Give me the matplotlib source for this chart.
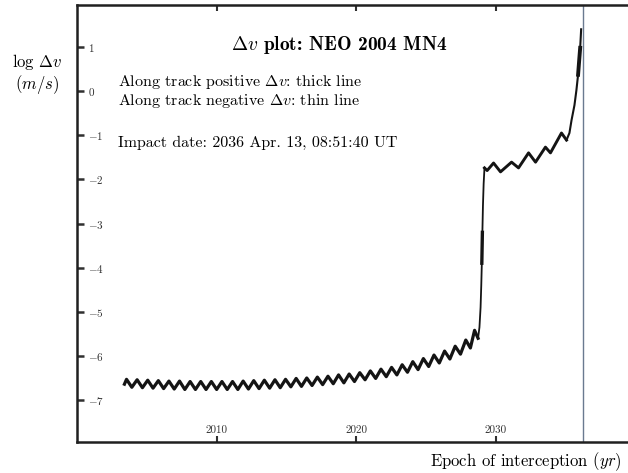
import matplotlib
matplotlib.use("Agg")
import matplotlib.pyplot as plt

plt.rcParams['mathtext.fontset'] = 'cm'
plt.rcParams['font.family'] = ['cmr10', 'DejaVu Serif']
plt.rcParams['axes.unicode_minus'] = False

# slow part before the jump: peaks and troughs of the wave (yr, log dv)
pre_t = [2003.4, 2003.55, 2003.93, 2004.31, 2004.69, 2005.07, 2005.45, 2005.83,
         2006.21, 2006.59, 2006.97, 2007.35, 2007.73, 2008.11, 2008.49, 2008.87,
         2009.25, 2009.63, 2010.01, 2010.39, 2010.77, 2011.15, 2011.53, 2011.91,
         2012.29, 2012.67, 2013.05, 2013.43, 2013.81, 2014.19, 2014.57, 2014.95,
         2015.33, 2015.71, 2016.09, 2016.47, 2016.85, 2017.23, 2017.61, 2017.99,
         2018.37, 2018.75, 2019.13, 2019.51, 2019.89, 2020.27, 2020.65, 2021.03,
         2021.41, 2021.79, 2022.17, 2022.55, 2022.93, 2023.31, 2023.69, 2024.07,
         2024.45, 2024.83, 2025.21, 2025.59, 2025.97, 2026.35, 2026.73, 2027.11,
         2027.49, 2027.87, 2028.2, 2028.5, 2028.75]
pre_v = [-6.64, -6.53, -6.71, -6.54, -6.72, -6.55, -6.73, -6.56,
         -6.74, -6.57, -6.75, -6.57, -6.76, -6.58, -6.76, -6.58,
         -6.76, -6.58, -6.76, -6.58, -6.76, -6.58, -6.76, -6.57,
         -6.75, -6.56, -6.74, -6.55, -6.73, -6.54, -6.72, -6.53,
         -6.70, -6.51, -6.69, -6.50, -6.67, -6.48, -6.65, -6.46,
         -6.63, -6.43, -6.61, -6.41, -6.58, -6.38, -6.54, -6.34,
         -6.51, -6.30, -6.47, -6.26, -6.43, -6.20, -6.37, -6.13,
         -6.31, -6.06, -6.24, -5.98, -6.16, -5.89, -6.07, -5.78,
         -5.96, -5.64, -5.82, -5.42, -5.60]

# the jump near 2029
jump_t = [2028.75, 2028.85, 2028.93, 2028.98, 2029.02, 2029.06, 2029.1, 2029.15, 2029.21]
jump_v = [-5.60, -5.35, -4.9, -4.4, -3.9, -3.2, -2.6, -2.1, -1.74]

# wave after the jump
post_t = [2029.21, 2029.4, 2029.86, 2030.36, 2031.15, 2031.65, 2032.37, 2032.87,
          2033.58, 2033.94, 2034.73, 2035.09]
post_v = [-1.74, -1.80, -1.63, -1.83, -1.61, -1.74, -1.40, -1.61,
          -1.27, -1.40, -0.95, -1.11]

# final spike before impact
spike_t = [2035.09, 2035.3, 2035.45, 2035.66, 2035.8, 2035.92, 2036.0, 2036.07, 2036.14]
spike_v = [-1.11, -0.95, -0.66, -0.32, 0.02, 0.37, 0.7, 0.98, 1.4]

impact = 2036.28

xticks = [2010, 2020, 2030]
yticks = [1, 0, -1, -2, -3, -4, -5, -6, -7]
ytick_labels = ['$1$', '$0$', '$-1$', '$-2$', '$-3$', '$-4$', '$-5$', '$-6$', '$-7$']

fig = plt.figure(figsize=(6.28, 4.73), dpi=100)
ax = fig.add_axes([77 / 628, 31 / 473, 558 / 628, 437 / 473])

ink = '#141414'
ax.plot(pre_t, pre_v, color=ink, lw=2.3, solid_joinstyle='round')
ax.plot(jump_t, jump_v, color=ink, lw=1.3)
ax.plot(jump_t[4:6], jump_v[4:6], color=ink, lw=2.4)
ax.plot(post_t, post_v, color=ink, lw=2.1, solid_joinstyle='round')
ax.plot(spike_t, spike_v, color=ink, lw=1.5)
ax.plot(spike_t[5:8], spike_v[5:8], color=ink, lw=2.8)
ax.axvline(impact, color='#6a7a90', lw=1.0)

ax.set_xlim(2000, 2040)
ax.set_ylim(-7.95, 1.95)

for side in ['left', 'bottom', 'top']:
    ax.spines[side].set_linewidth(1.8)
    ax.spines[side].set_color('#202020')
ax.spines['right'].set_visible(False)

ax.set_xticks(xticks)
ax.set_xticklabels([str(x) for x in xticks])
ax.set_yticks(yticks)
ax.set_yticklabels(ytick_labels)
ax.tick_params(axis='x', direction='in', length=4, width=1.5, top=True, pad=-12,
               labelsize=8, colors='#303030')
ax.tick_params(axis='y', direction='in', length=5, width=1.8, pad=-8,
               labelsize=8, colors='#303030')
for lbl in ax.get_yticklabels():
    lbl.set_horizontalalignment('left')

fig.text(0.541, 0.905, r'$\Delta v$ plot: NEO 2004 MN4', family=['cmb10', 'DejaVu Serif'],
         fontsize=14, ha='center', va='center')
fig.text(0.188, 0.827, r'Along track positive $\Delta v$: thick line', fontsize=11.5,
         ha='left', va='center')
fig.text(0.188, 0.786, r'Along track negative $\Delta v$: thin line', fontsize=11.5,
         ha='left', va='center')
fig.text(0.188, 0.698, 'Impact date: 2036 Apr. 13, 08:51:40 UT', fontsize=11.5,
         ha='left', va='center')

fig.text(0.059, 0.869, r'log $\Delta v$', fontsize=12, ha='center', va='center')
fig.text(0.059, 0.822, r'$(m/s)$', fontsize=12, ha='center', va='center')
fig.text(0.990, 0.023, r'Epoch of interception $(yr)$', fontsize=12, ha='right', va='center')

fig.savefig('out.png', dpi=100)
